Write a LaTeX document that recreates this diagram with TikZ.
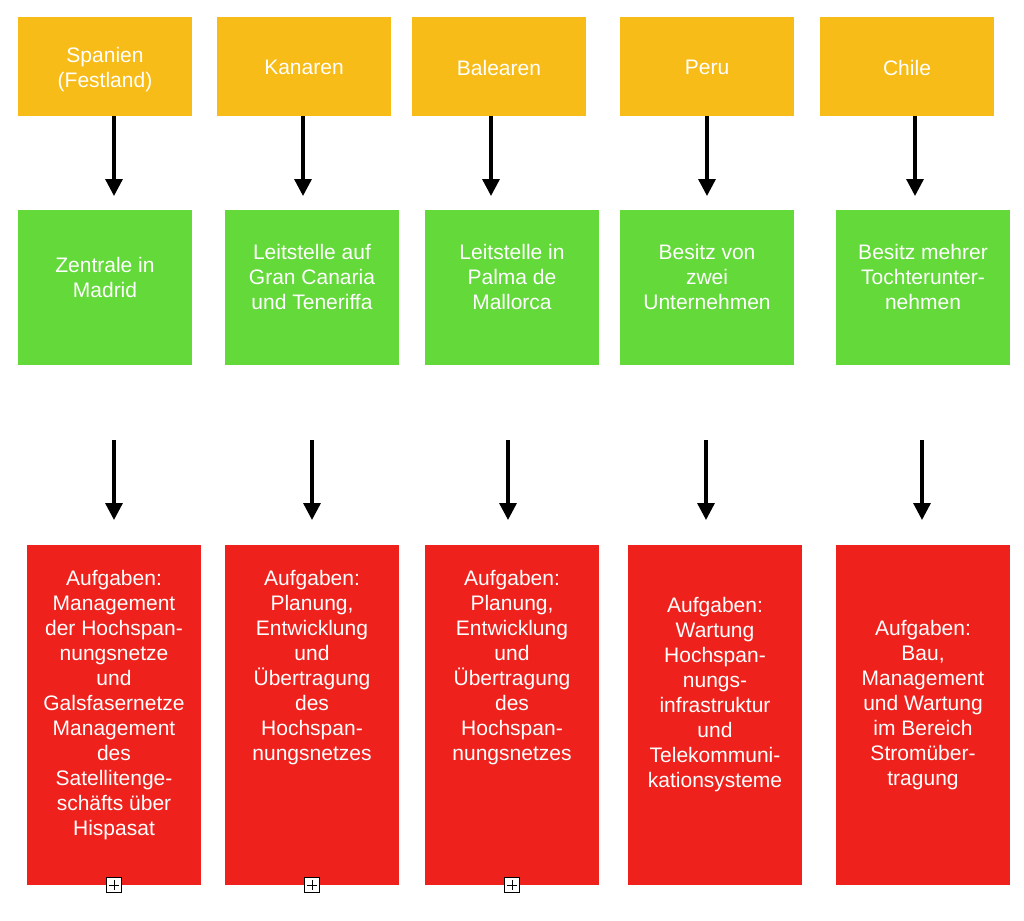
\documentclass[tikz,border=0pt]{standalone}
\usepackage{fontspec}
\setmainfont{Liberation Sans}
\usepackage{xcolor}
\usepackage{tikz}
\usetikzlibrary{arrows.meta}
\definecolor{landorange}{HTML}{F7BC18}
\definecolor{sitzgreen}{HTML}{63D93A}
\definecolor{aufgred}{HTML}{EE211C}

\begin{document}
\begin{tikzpicture}[x=1pt,y=-1pt,
land/.style={fill=landorange,minimum width=174pt,minimum height=99pt,inner sep=0pt},
sitz/.style={fill=sitzgreen,minimum width=174pt,minimum height=155pt,inner sep=0pt},
aufg/.style={fill=aufgred,minimum width=174pt,minimum height=340pt,inner sep=0pt},
txt/.style={text=white,align=center,font=\fontsize{21}{25}\selectfont,inner sep=0pt},
pfeil/.style={line width=3.3pt,-{Triangle[width=17pt,length=17pt]}},
plusbox/.style={draw,fill=white,minimum size=15pt,inner sep=0pt,line width=1.4pt,
  path picture={\draw[line width=0.9pt]
  ([yshift=-2.5pt]path picture bounding box.north)--([yshift=2.5pt]path picture bounding box.south)
  ([xshift=2.5pt]path picture bounding box.west)--([xshift=-2.5pt]path picture bounding box.east);}}]
\useasboundingbox (0,0) rectangle (1024,920);
%Laender
\node[land] (spanien) at (105,66.5) {};
\node[land] (kanaren) at (304,66.5) {};
\node[land] (balearen) at (499,66.5) {};
\node[land] (peru) at (707,66.5) {};
\node[land] (chile) at (907,66.5) {};
\node[txt] (tspanien) at (105,69.5) {Spanien\\(Festland)};
\node[txt] (tkanaren) at (304,67.5) {Kanaren};
\node[txt] (tbalearen) at (499,67.5) {Balearen};
\node[txt] (tperu) at (707,67.5) {Peru};
\node[txt] (tchile) at (907,67.5) {Chile};
%Sitz
\node[sitz] (madrid) at (105,287.5) {};
\node[sitz] (canaria) at (312,287.5) {};
\node[sitz] (palma) at (512,287.5) {};
\node[sitz] (zwei) at (707,287.5) {};
\node[sitz] (tochter) at (923,287.5) {};
\node[txt] (tmadrid) at (105,277) {Zentrale in\\Madrid};
\node[txt] (tcanaria) at (312,277) {Leitstelle auf\\Gran Canaria\\und Teneriffa};
\node[txt] (tpalma) at (512,277) {Leitstelle in\\Palma de\\Mallorca};
\node[txt] (tzwei) at (707,277) {Besitz von\\zwei\\Unternehmen};
\node[txt] (ttochter) at (923,277) {Besitz mehrer\\Tochterunter-\\nehmen};
%Aufgaben
\node[aufg] (aspanien) at (114,715) {};
\node[aufg] (akanaren) at (312,715) {};
\node[aufg] (abalearen) at (512,715) {};
\node[aufg] (aperu) at (715,715) {};
\node[aufg] (achile) at (923,715) {};
\node[txt] (taspanien) at (114,705) {Aufgaben:\\Management\\der Hochspan-\\nungsnetze\\und\\Galsfasernetze\\Management\\des\\Satellitenge-\\schäfts über\\Hispasat};
\node[txt] (takanaren) at (312,667.5) {Aufgaben:\\Planung,\\Entwicklung\\und\\Übertragung\\des\\Hochspan-\\nungsnetzes};
\node[txt] (tabalearen) at (512,667.5) {Aufgaben:\\Planung,\\Entwicklung\\und\\Übertragung\\des\\Hochspan-\\nungsnetzes};
\node[txt] (taperu) at (715,694.5) {Aufgaben:\\Wartung\\Hochspan-\\nungs-\\infrastruktur\\und\\Telekommuni-\\kationsysteme};
\node[txt] (tachile) at (923,705) {Aufgaben:\\Bau,\\Management\\und Wartung\\im Bereich\\Stromüber-\\tragung};
\node[plusbox] (pspanien) at (114,885) {};
\node[plusbox] (pkanaren) at (312,885) {};
\node[plusbox] (pbalearen) at (512,885) {};
%Pfeile
\coordinate (e1) at (114,196);
\coordinate (e2) at (303,196);
\coordinate (e3) at (491,196);
\coordinate (e4) at (707,196);
\coordinate (e5) at (915,196);
\draw[pfeil] (spanien.south -| e1)--(e1);
\draw[pfeil] (kanaren.south -| e2)--(e2);
\draw[pfeil] (balearen.south -| e3)--(e3);
\draw[pfeil] (peru.south -| e4)--(e4);
\draw[pfeil] (chile.south -| e5)--(e5);
\coordinate (s6) at (114,440); \coordinate (e6) at (114,520);
\coordinate (s7) at (312,440); \coordinate (e7) at (312,520);
\coordinate (s8) at (508,440); \coordinate (e8) at (508,520);
\coordinate (s9) at (706,440); \coordinate (e9) at (706,520);
\coordinate (s10) at (922,440); \coordinate (e10) at (922,520);
\draw[pfeil] (s6)--(e6);
\draw[pfeil] (s7)--(e7);
\draw[pfeil] (s8)--(e8);
\draw[pfeil] (s9)--(e9);
\draw[pfeil] (s10)--(e10);
\end{tikzpicture}
\end{document}
